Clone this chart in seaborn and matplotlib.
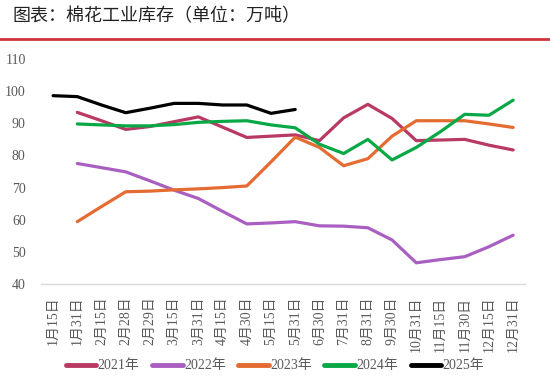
import numpy as np
import pandas as pd
import matplotlib
matplotlib.use("Agg")
import matplotlib.pyplot as plt
import seaborn as sns

# =========================
# DATA
# =========================
dates = ["1月15日", "1月31日", "2月15日", "2月28日", "2月29日", "3月15日", "3月31日",
         "4月15日", "4月30日", "5月15日", "5月31日", "6月30日", "7月31日", "8月31日",
         "9月30日", "10月31日", "11月15日", "11月30日", "12月15日", "12月31日"]

nan = np.nan
y2021 = [nan, 93.4, 90.8, 88.1, 89.0, 90.5, 92.0, 88.8, 85.6, 86.0, 86.4,
         84.6, 91.7, 95.9, 91.5, 84.6, 84.8, 85.0, 83.2, 81.7]
y2022 = [nan, 77.5, 76.2, 74.9, 72.1, 69.2, 66.6, 62.6, 58.7, 59.0, 59.4,
         58.1, 58.0, 57.5, 53.7, 46.6, 47.6, 48.5, 51.6, 55.2]
y2023 = [nan, 59.4, 64.1, 68.7, 68.9, 69.3, 69.6, 70.0, 70.5, 78.0, 85.7,
         82.5, 76.8, 79.0, 86.0, 90.8, 90.8, 90.8, 89.8, 88.7]
y2024 = [nan, 89.8, 89.5, 89.2, 89.2, 89.6, 90.3, 90.6, 90.8, 89.5, 88.6,
         83.5, 80.6, 85.0, 78.6, 82.5, 87.4, 92.8, 92.5, 97.2]
y2025 = [98.6, 98.3, 95.7, 93.3, 94.7, 96.2, 96.2, 95.7, 95.7, 93.1, 94.3,
         nan, nan, nan, nan, nan, nan, nan, nan, nan]

years = ["2021年", "2022年", "2023年", "2024年", "2025年"]
colors = ["#B83A62", "#A95FC1", "#E46B32", "#08A847", "#000000"]

rows = []
for name, vals in zip(years, [y2021, y2022, y2023, y2024, y2025]):
    for i, v in enumerate(vals):
        rows.append({"idx": i, "value": v, "year": name})
df = pd.DataFrame(rows).dropna()

# =========================
# PLOT
# =========================
sns.set_style("white")
plt.rcParams["font.family"] = ["Liberation Serif", "Noto Sans CJK SC"]

fig = plt.figure(figsize=(5.5, 3.82), dpi=100)
ax = fig.add_axes([0.0745, 0.2565, 0.8805, 0.589])

sns.lineplot(data=df, x="idx", y="value", hue="year", hue_order=years,
             palette=colors, linewidth=2.3, ax=ax, sort=True)

ax.set_xlim(-0.5, len(dates) - 0.5)
ax.set_ylim(40, 110)
ax.set_yticks(range(40, 111, 10))
ax.set_xticks(range(len(dates)))
ax.set_xticklabels(dates, rotation=90)
ax.tick_params(axis="both", length=0, labelsize=10, colors="#595959")
ax.tick_params(axis="x", pad=9)
ax.tick_params(axis="y", pad=11)
ax.set_xlabel("")
ax.set_ylabel("")

for side in ["left", "right", "top"]:
    ax.spines[side].set_visible(False)
ax.spines["bottom"].set_color("#D9D9D9")
ax.spines["bottom"].set_linewidth(1.0)

# legend at bottom
handles, labels = ax.get_legend_handles_labels()
ax.legend_.remove()
for h in handles:
    h.set_linewidth(3.5)
fig.legend(handles, labels, loc="center", bbox_to_anchor=(0.5, 0.042), ncol=5,
           frameon=False, fontsize=10, handlelength=2.2, handletextpad=0.1,
           columnspacing=0.9, labelcolor="#595959")

# title + red rule
fig.text(0.023, 0.958, "图表：棉花工业库存（单位：万吨）", fontsize=13,
         family=["Noto Sans CJK SC"], color="#222222", va="center", ha="left")
fig.add_artist(plt.Line2D([0, 1], [0.898, 0.898], color="#D0343A", linewidth=2.0,
                          transform=fig.transFigure))

fig.savefig("out.png", dpi=100)
